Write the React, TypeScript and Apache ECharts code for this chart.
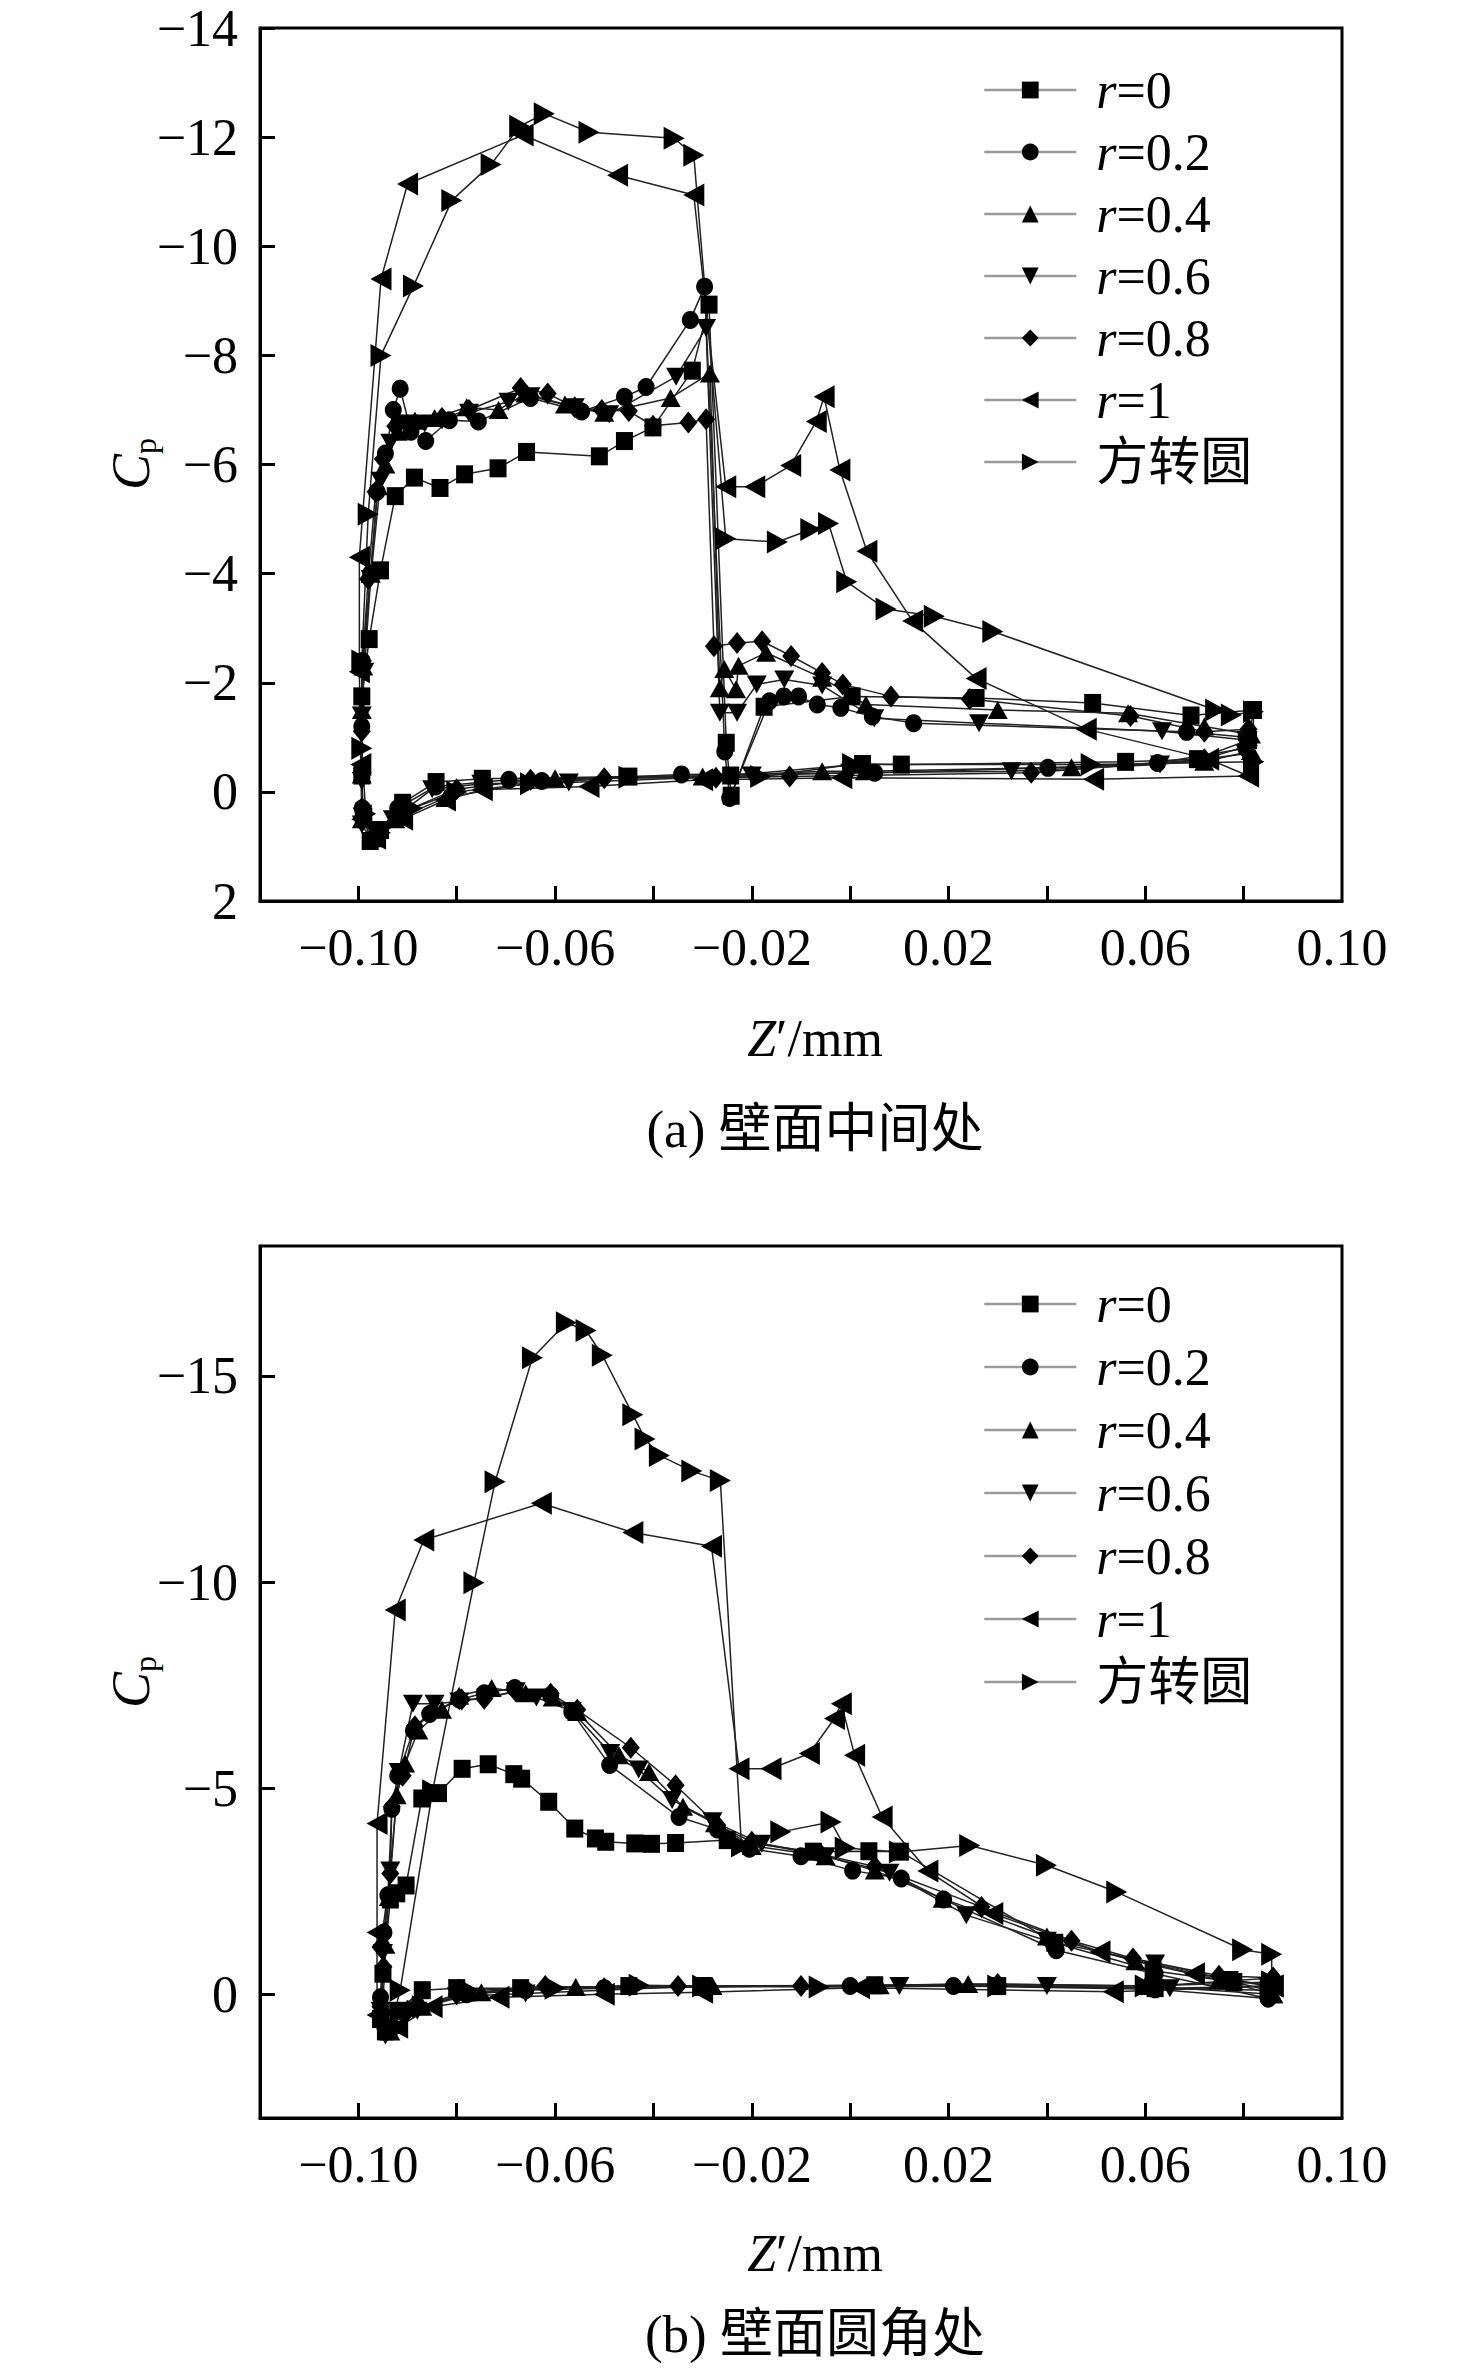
import React, { useEffect, useRef } from 'react';
import * as echarts from 'echarts';

// Pressure coefficient Cp along Z' for seven wall shapes, two panels.
// Every series is one closed loop: lower wall from the trailing edge forward,
// up the leading edge, then the upper wall back to the trailing edge.

const seriesNames = ['r=0', 'r=0.2', 'r=0.4', 'r=0.6', 'r=0.8', 'r=1', '方转圆'];

// axis ticks / labels
const zTicks = [-0.1, -0.08, -0.06, -0.04, -0.02, 0, 0.02, 0.04, 0.06, 0.08];
const zLabels = [-0.1, -0.06, -0.02, 0.02, 0.06, 0.1];
const cpTicksA = [-14, -12, -10, -8, -6, -4, -2, 0, 2];
const cpTicksB = [-15, -10, -5, 0];

// ---- (a) 壁面中间处 ----
const aR0: [number, number][] = [
  [0.081, -0.95], [0.0706, -0.6], [0.056, -0.55], [0.0104, -0.5], [0.0025, -0.51], [-0.0243, -0.3],
  [-0.045, -0.28], [-0.0748, -0.24], [-0.0842, -0.18], [-0.091, 0.2], [-0.0955, 0.7], [-0.0976, 0.9],
  [-0.099, 0.4], [-0.0993, -0.3], [-0.0993, -1.75], [-0.0978, -2.8], [-0.0955, -4.06], [-0.0925, -5.42],
  [-0.0886, -5.76], [-0.0834, -5.57], [-0.0784, -5.82], [-0.0716, -5.93], [-0.0658, -6.23], [-0.051, -6.15],
  [-0.0459, -6.43], [-0.0401, -6.68], [-0.0321, -7.72], [-0.0287, -8.93], [-0.0252, -0.9], [-0.0242, 0.07],
  [-0.0175, -1.56], [0.0004, -1.75], [0.0256, -1.72], [0.0493, -1.63], [0.0693, -1.4], [0.082, -1.5],
  [0.081, -0.95],
];
const aR02: [number, number][] = [
  [0.0805, -0.8], [0.0625, -0.53], [0.0402, -0.44], [0.005, -0.35], [-0.0343, -0.32], [-0.0627, -0.2],
  [-0.0694, -0.22], [-0.0843, -0.1], [-0.092, 0.3], [-0.0965, 0.8], [-0.0992, 0.3], [-0.0993, -0.4],
  [-0.0993, -1.2], [-0.0992, -2.4], [-0.0975, -4.0], [-0.0962, -5.5], [-0.0945, -6.2], [-0.0929, -7.0],
  [-0.0915, -7.39], [-0.0893, -6.6], [-0.0863, -6.43], [-0.0815, -6.81], [-0.0756, -6.79], [-0.065, -7.22],
  [-0.0546, -6.97], [-0.0459, -7.24], [-0.0415, -7.42], [-0.0325, -8.65], [-0.0296, -9.26], [-0.0255, -0.74],
  [-0.0245, 0.11], [-0.0164, -1.66], [-0.0135, -1.75], [-0.0105, -1.75], [-0.0067, -1.6], [-0.0019, -1.54],
  [0.0045, -1.38], [0.0129, -1.26], [0.0684, -1.1], [0.0805, -1.0], [0.0805, -0.8],
];
const aR04: [number, number][] = [
  [0.0815, -0.75], [0.072, -0.55], [0.045, -0.45], [0.003, -0.38], [-0.0057, -0.38], [-0.03, -0.28],
  [-0.06, -0.25], [-0.0823, 0.11], [-0.0925, 0.5], [-0.0965, 0.85], [-0.0993, 0.5], [-0.0993, -0.32],
  [-0.0993, -1.5], [-0.099, -2.3], [-0.0975, -4.0], [-0.096, -5.6], [-0.0945, -6.0], [-0.092, -6.6],
  [-0.0885, -6.8], [-0.0845, -6.85], [-0.078, -7.05], [-0.0715, -7.0], [-0.066, -7.3], [-0.058, -7.1],
  [-0.05, -6.95], [-0.0365, -7.22], [-0.0285, -7.67], [-0.0265, -1.9], [-0.0256, -2.25], [-0.0232, -1.88],
  [-0.0227, -2.31], [-0.0171, -2.55], [-0.0057, -2.09], [0.0032, -1.6], [0.03, -1.5], [0.0565, -1.44],
  [0.072, -1.2], [0.0815, -1.05], [0.0815, -0.75],
];
const aR06: [number, number][] = [
  [0.0805, -0.7], [0.063, -0.5], [0.0328, -0.38], [0.0, -0.35], [-0.02, -0.3], [-0.0572, -0.17],
  [-0.075, -0.15], [-0.085, -0.05], [-0.093, 0.5], [-0.0972, 0.9], [-0.0993, 0.6], [-0.0993, -0.2],
  [-0.0993, -1.4], [-0.0988, -2.2], [-0.0975, -3.9], [-0.0955, -5.7], [-0.0935, -6.4], [-0.0905, -6.75],
  [-0.0865, -6.75], [-0.0775, -6.95], [-0.0695, -7.15], [-0.065, -7.25], [-0.056, -7.05], [-0.049, -6.92],
  [-0.0354, -7.61], [-0.0293, -8.5], [-0.0265, -1.45], [-0.023, -1.45], [-0.019, -1.97], [-0.0134, -2.06],
  [-0.0057, -1.95], [0.0049, -1.35], [0.0262, -1.26], [0.0634, -1.11], [0.0805, -0.95], [0.0805, -0.7],
];
const aR08: [number, number][] = [
  [0.081, -0.85], [0.072, -0.6], [0.0368, -0.35], [-0.0123, -0.28], [-0.0273, -0.26], [-0.05, -0.25],
  [-0.065, -0.22], [-0.08, -0.05], [-0.0905, 0.35], [-0.097, 0.85], [-0.0993, 0.3], [-0.0993, -1.11],
  [-0.0992, -2.3], [-0.098, -3.9], [-0.0965, -5.5], [-0.095, -6.1], [-0.0925, -6.7], [-0.0885, -6.75],
  [-0.083, -6.85], [-0.0775, -7.0], [-0.067, -7.4], [-0.0615, -7.3], [-0.056, -7.05], [-0.0505, -7.0],
  [-0.045, -6.98], [-0.0401, -6.71], [-0.0329, -6.77], [-0.0293, -6.83], [-0.0277, -2.67], [-0.023, -2.73],
  [-0.0179, -2.76], [-0.012, -2.49], [-0.0057, -2.18], [-0.0015, -1.97], [0.0083, -1.75], [0.0243, -1.7],
  [0.057, -1.39], [0.072, -1.1], [0.081, -1.15], [0.081, -0.85],
];
const aR1: [number, number][] = [
  [0.081, -0.29], [0.0495, -0.23], [-0.0017, -0.26], [-0.03, -0.22], [-0.0531, -0.1], [-0.0748, -0.04],
  [-0.0823, 0.15], [-0.091, 0.5], [-0.0965, 0.85], [-0.0993, 0.5], [-0.0995, -0.5], [-0.0998, -2.2],
  [-0.0998, -4.3], [-0.0954, -9.4], [-0.09, -11.14], [-0.0665, -12.04], [-0.0473, -11.3], [-0.0318, -10.94],
  [-0.0253, -5.59], [-0.0194, -5.59], [-0.0121, -5.98], [-0.0069, -6.79], [-0.0053, -7.24], [-0.0021, -5.9],
  [0.0034, -4.41], [0.0127, -3.13], [0.0256, -2.08], [0.048, -1.15], [0.0729, -0.6], [0.081, -0.29],
];
const aSq: [number, number][] = [
  [0.082, -0.55], [0.049, -0.5], [0.0005, -0.5], [-0.0182, -0.28], [-0.045, -0.27], [-0.065, -0.15],
  [-0.08, 0.0], [-0.089, 0.3], [-0.0955, 0.75], [-0.0985, 0.4], [-0.0993, -0.8], [-0.0993, -2.4],
  [-0.098, -5.09], [-0.0954, -8.0], [-0.0888, -9.27], [-0.081, -10.84], [-0.073, -11.5], [-0.0672, -12.2],
  [-0.0622, -12.43], [-0.0531, -12.09], [-0.0358, -11.98], [-0.0318, -11.67], [-0.0253, -4.64], [-0.0148, -4.58],
  [-0.008, -4.81], [-0.0044, -4.92], [-0.0007, -3.85], [0.0073, -3.35], [0.0171, -3.22], [0.029, -2.94],
  [0.0743, -1.5], [0.0775, -1.41], [0.082, -1.47], [0.082, -0.55],
];

// ---- (b) 壁面圆角处 ----
const bR0: [number, number][] = [
  [0.085, -0.1], [0.062, -0.15], [0.03, -0.2], [0.005, -0.22], [-0.03, -0.18], [-0.045, -0.2],
  [-0.067, -0.15], [-0.08, -0.15], [-0.087, -0.1], [-0.092, 0.4], [-0.0945, 0.9], [-0.0955, 0.6],
  [-0.095, -0.5], [-0.0935, -2.3], [-0.0922, -2.45], [-0.0903, -2.64], [-0.0871, -4.75], [-0.0837, -4.88],
  [-0.0789, -5.47], [-0.0736, -5.58], [-0.0684, -5.34], [-0.0668, -5.23], [-0.0613, -4.67], [-0.056, -4.02],
  [-0.0518, -3.78], [-0.0497, -3.7], [-0.0438, -3.66], [-0.0404, -3.65], [-0.0355, -3.67], [-0.025, -3.74],
  [-0.0075, -3.46], [0.0038, -3.47], [0.0102, -3.46], [0.0416, -1.25], [0.0616, -0.57], [0.078, -0.3],
  [0.085, -0.1],
];
const bR02: [number, number][] = [
  [0.085, 0.1], [0.062, -0.12], [0.021, -0.2], [0.0, -0.2], [-0.03, -0.18], [-0.05, -0.15],
  [-0.066, -0.1], [-0.078, 0.0], [-0.088, 0.3], [-0.093, 0.8], [-0.0955, 0.5], [-0.0955, 0.07],
  [-0.0948, -1.5], [-0.094, -2.4], [-0.0932, -4.5], [-0.092, -5.3], [-0.0888, -6.4], [-0.0855, -6.8],
  [-0.0795, -7.15], [-0.0744, -7.3], [-0.0682, -7.43], [-0.0609, -7.25], [-0.0566, -6.85], [-0.0489, -5.56],
  [-0.0348, -4.3], [-0.027, -4.0], [-0.0205, -3.53], [-0.01, -3.35], [0.0005, -3.0], [0.0104, -2.81],
  [0.019, -2.3], [0.0419, -1.07], [0.062, -0.5], [0.085, 0.1],
];
const bR04: [number, number][] = [
  [0.086, 0.0], [0.06, -0.2], [0.024, -0.25], [0.006, -0.22], [-0.028, -0.2], [-0.0558, -0.18],
  [-0.075, -0.05], [-0.087, 0.3], [-0.0935, 0.9], [-0.095, 0.3], [-0.0945, -1.2], [-0.0938, -2.36],
  [-0.0922, -4.83], [-0.0905, -5.6], [-0.0878, -6.4], [-0.083, -6.9], [-0.0795, -7.24], [-0.0729, -7.43],
  [-0.066, -7.3], [-0.0605, -7.2], [-0.0555, -6.85], [-0.047, -5.8], [-0.0409, -5.39], [-0.034, -4.55],
  [-0.0275, -4.15], [-0.02, -3.6], [-0.005, -3.35], [0.005, -3.0], [0.0188, -2.32], [0.04, -1.4],
  [0.058, -0.8], [0.075, -0.35], [0.086, 0.0],
];
const bR06: [number, number][] = [
  [0.085, -0.2], [0.065, -0.15], [0.04, -0.2], [0.01, -0.2], [-0.03, -0.2], [-0.066, -0.02],
  [-0.08, 0.05], [-0.088, 0.4], [-0.0945, 1.0], [-0.0955, 0.4], [-0.095, -1.0], [-0.0935, -3.0],
  [-0.0918, -5.39], [-0.0889, -7.05], [-0.0845, -7.05], [-0.0795, -7.1], [-0.074, -7.2], [-0.068, -7.35],
  [-0.0638, -7.2], [-0.0566, -6.87], [-0.0488, -5.85], [-0.043, -5.45], [-0.0362, -4.71], [-0.028, -4.2],
  [-0.018, -3.65], [-0.005, -3.35], [0.008, -2.95], [0.0236, -1.92], [0.04, -1.3], [0.062, -0.75],
  [0.077, -0.35], [0.085, -0.2],
];
const bR08: [number, number][] = [
  [0.086, -0.4], [0.062, -0.2], [0.03, -0.25], [-0.01, -0.2], [-0.035, -0.2], [-0.05, -0.15],
  [-0.062, -0.2], [-0.08, 0.0], [-0.09, 0.4], [-0.0945, 0.85], [-0.0955, 0.3], [-0.0949, -0.66],
  [-0.0955, -1.15], [-0.0935, -2.93], [-0.0932, -4.55], [-0.091, -5.3], [-0.0885, -6.5], [-0.0849, -6.87],
  [-0.079, -7.15], [-0.0744, -7.17], [-0.068, -7.35], [-0.0609, -7.29], [-0.0555, -6.9], [-0.0446, -5.98],
  [-0.0355, -5.07], [-0.027, -4.1], [-0.02, -3.7], [-0.006, -3.4], [0.005, -3.1], [0.0267, -2.12],
  [0.045, -1.3], [0.0575, -0.87], [0.075, -0.45], [0.086, -0.4],
];
const bR1: [number, number][] = [
  [0.086, -0.2], [0.0535, -0.06], [0.0019, -0.16], [-0.03, -0.05], [-0.05, 0.0], [-0.0714, 0.07],
  [-0.085, 0.3], [-0.092, 0.8], [-0.0962, 0.5], [-0.0962, -1.5], [-0.0962, -4.14], [-0.0925, -9.32],
  [-0.0867, -11.02], [-0.0628, -11.91], [-0.0442, -11.2], [-0.0282, -10.87], [-0.0226, -5.47], [-0.0161, -5.47],
  [-0.0083, -5.84], [-0.0032, -6.69], [-0.0018, -7.05], [0.0009, -5.8], [0.0065, -4.3], [0.0158, -2.99],
  [0.029, -1.96], [0.0508, -1.03], [0.07, -0.5], [0.086, -0.2],
];
const bSq: [number, number][] = [
  [0.0857, -0.3], [0.06, -0.2], [0.03, -0.2], [-0.0063, -0.18], [-0.03, -0.2], [-0.0429, -0.22],
  [-0.06, -0.15], [-0.0776, -0.1], [-0.087, 0.3], [-0.0935, 0.85], [-0.0915, -0.1], [-0.0849, -4.94],
  [-0.0765, -9.98], [-0.0722, -12.43], [-0.0646, -15.44], [-0.0577, -16.29], [-0.0537, -16.1], [-0.0504, -15.5],
  [-0.0442, -14.06], [-0.0417, -13.47], [-0.0388, -13.07], [-0.0322, -12.69], [-0.0264, -12.46], [-0.0221, -3.6],
  [-0.0141, -3.94], [-0.0039, -4.18], [-0.001, -3.55], [0.01, -3.45], [0.0243, -3.61], [0.0399, -3.13],
  [0.0542, -2.48], [0.0798, -1.08], [0.0857, -0.97], [0.0857, -0.3],
];

const panelA = [aR0, aR02, aR04, aR06, aR08, aR1, aSq];
const panelB = [bR0, bR02, bR04, bR06, bR08, bR1, bSq];

// marker shapes: square, circle, up/down triangle, diamond, left/right triangle
const markers = [
  'rect',
  'circle',
  'triangle',
  'path://M0,0L10,0L5,10Z',
  'diamond',
  'path://M0,5L10,0L10,10Z',
  'path://M0,0L10,5L0,10Z',
];
const markerSizes = [[17, 18], [17, 18], [20, 18], [20, 18], [18, 22], [21, 23], [21, 23]];

const SERIF = "'Liberation Serif', 'Times New Roman', 'Noto Sans CJK SC', serif";
const FS = 52;

const fmtZ = (v: number) => {
  const s = Math.abs(v).toFixed(2);
  return v < -1e-9 ? '\u2212' + s : s;
};
const fmtCp = (v: number) => (v < 0 ? '\u2212' + Math.abs(v) : String(v));

const legendLabel = (name: string) =>
  name.startsWith('r=') ? `{g| }{i|r}{n|${name.slice(1)}}` : `{g| }{n|${name}}`;

const labelText = { color: '#000', fontSize: FS, fontFamily: SERIF };

function buildOption() {
  const grids = [
    { left: 260, top: 28, width: 1082, height: 873 },
    { left: 260, top: 1246, width: 1082, height: 872 },
  ].map((g) => ({
    ...g,
    show: true,
    borderColor: '#000',
    borderWidth: 3,
    backgroundColor: 'transparent',
    containLabel: false,
    outerBoundsMode: 'none',
  }));

  const xAxis = [0, 1].map((gridIndex) => ({
    gridIndex,
    type: 'value',
    min: -0.12,
    max: 0.1,
    axisLine: { onZero: false, lineStyle: { color: '#000', width: 3 } },
    axisTick: { inside: true, length: 15, customValues: zTicks, lineStyle: { color: '#000', width: 3 } },
    axisLabel: {
      ...labelText,
      customValues: zLabels,
      margin: 20,
      showMinLabel: true,
      showMaxLabel: true,
      formatter: fmtZ,
    },
    splitLine: { show: false },
  }));

  const yRanges = [
    { min: -14, max: 2, ticks: cpTicksA },
    { min: -18.15, max: 3, ticks: cpTicksB },
  ];
  const yAxis = yRanges.map((r, gridIndex) => ({
    gridIndex,
    type: 'value',
    inverse: true,
    min: r.min,
    max: r.max,
    axisLine: { onZero: false, lineStyle: { color: '#000', width: 3 } },
    axisTick: { inside: true, length: 15, customValues: r.ticks, lineStyle: { color: '#000', width: 3 } },
    axisLabel: {
      ...labelText,
      customValues: r.ticks,
      margin: 22,
      showMinLabel: true,
      showMaxLabel: true,
      formatter: fmtCp,
    },
    splitLine: { show: false },
  }));

  const series = [panelA, panelB].flatMap((panel, gi) =>
    panel.map((d, i) => ({
      name: seriesNames[i],
      type: 'line',
      xAxisIndex: gi,
      yAxisIndex: gi,
      data: d,
      symbol: markers[i],
      symbolSize: markerSizes[i],
      showAllSymbol: true,
      itemStyle: { color: '#000' },
      lineStyle: { color: '#222', width: 1.5 },
      emphasis: { disabled: true },
      silent: true,
    }))
  );

  const legendRich = {
    g: { width: 15 },
    i: { ...labelText, fontStyle: 'italic', lineHeight: FS },
    n: { ...labelText, lineHeight: FS },
  };
  const legend = [64, 1278].map((top, k) => ({
    data: seriesNames,
    orient: 'vertical',
    left: 983,
    top,
    padding: 0,
    itemWidth: 92,
    itemHeight: 21,
    itemGap: k === 0 ? 10 : 11,
    selectedMode: false,
    lineStyle: { color: '#9a9a9a', width: 2.5 },
    formatter: legendLabel,
    textStyle: { ...labelText, rich: legendRich },
  }));

  const richTitle = {
    i: { fill: '#000', fontSize: FS, fontFamily: SERIF, fontStyle: 'italic' },
    n: { fill: '#000', fontSize: FS, fontFamily: SERIF },
  };
  const richCp = {
    c: { fill: '#000', fontSize: 54, fontFamily: SERIF, fontStyle: 'italic', lineHeight: 60 },
    p: { fill: '#000', fontSize: 32, fontFamily: SERIF, lineHeight: 60, verticalAlign: 'bottom' },
  };
  const panelText = (cy: number, cap: string, capY: number, titleY: number) => [
    {
      type: 'text',
      x: 131,
      y: cy,
      rotation: Math.PI / 2,
      style: { text: '{c|C}{p|p}', rich: richCp, align: 'center', verticalAlign: 'middle' },
    },
    {
      type: 'text',
      x: 815,
      y: titleY,
      style: { text: '{i|Z}{n|\u2032/mm}', rich: richTitle, align: 'center', verticalAlign: 'middle' },
    },
    {
      type: 'text',
      x: 815,
      y: capY,
      style: {
        text: cap,
        fill: '#000',
        fontSize: 53,
        fontFamily: SERIF,
        align: 'center',
        verticalAlign: 'middle',
      },
    },
  ];

  return {
    animation: false,
    backgroundColor: '#fff',
    grid: grids,
    xAxis,
    yAxis,
    legend,
    series,
    graphic: [
      ...panelText(464, '(a) 壁面中间处', 1129, 1038),
      ...panelText(1682, '(b) 壁面圆角处', 2334, 2253),
    ],
  };
}

export default function App() {
  const chartRef = useRef<HTMLDivElement>(null);

  useEffect(() => {
    if (!chartRef.current) return;
    const chart = echarts.init(chartRef.current, undefined, { renderer: 'svg' });
    chart.setOption(buildOption() as any);
    return () => {
      chart.dispose();
    };
  }, []);

  return (
    <div
      ref={chartRef}
      style={{ position: 'absolute', left: 0, top: 0, width: 1476, height: 2368, background: '#fff' }}
    />
  );
}
